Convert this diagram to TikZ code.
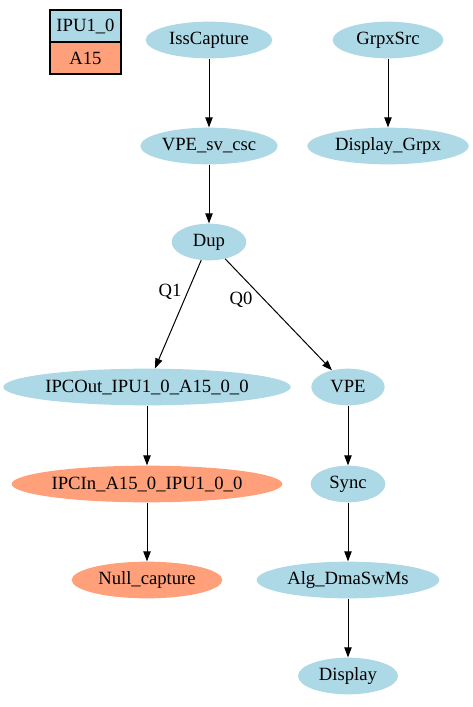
\documentclass[tikz,border=0pt]{standalone}
\usepackage{fontspec}
\setmainfont{Liberation Serif}
\usepackage{tikz}
\usetikzlibrary{arrows.meta,shapes.geometric}

\tikzset{
	blk/.style = {ellipse, fill=ipublue, inner sep=0pt, minimum height=27.5pt},
	arm/.style = {ellipse, fill=armsalmon, inner sep=0pt, minimum height=27.5pt},
	key/.style = {draw, line width=0.8pt, inner sep=0pt, minimum width=53.25pt, minimum height=24pt},
	flow/.style = {-{Triangle[length=7.5pt,width=5.5pt]}, line width=0.75pt}
}
\definecolor{ipublue}{HTML}{ADD8E6}
\definecolor{armsalmon}{HTML}{FFA07A}

\begin{document}
\begin{tikzpicture}[x=0.75pt, y=-0.75pt, font=\fontsize{14}{16}\selectfont]
		\useasboundingbox (0,0) rectangle (473,707);
		% legend
		\node[key, fill=ipublue] (K1) at (85.5,26) {IPU1\_0};
		\node[key, fill=armsalmon] (K2) at (85.5,58) {A15};
		% chain nodes
		\node[blk, minimum width=95pt] (Iss) at (209,40) {IssCapture};
		\node[blk, minimum width=83pt] (Grpx) at (388,40) {GrpxSrc};
		\node[blk, minimum width=103pt] (Csc) at (209,146) {VPE\_sv\_csc};
		\node[blk, minimum width=121pt] (DGrpx) at (388,146) {Display\_Grpx};
		\node[blk, minimum width=56pt] (Dup) at (209,242) {Dup};
		\node[blk, minimum width=215pt] (Out) at (147,387) {IPCOut\_IPU1\_0\_A15\_0\_0};
		\node[blk, minimum width=55pt] (Vpe) at (348,387) {VPE};
		\node[arm, minimum width=203pt] (In) at (147,484) {IPCIn\_A15\_0\_IPU1\_0\_0};
		\node[blk, minimum width=56pt] (Sync) at (348,484) {Sync};
		\node[arm, minimum width=113pt] (Null) at (147,580) {Null\_capture};
		\node[blk, minimum width=137pt] (Alg) at (348,580) {Alg\_DmaSwMs};
		\node[blk, minimum width=75pt] (Disp) at (348,676) {Display};
		% queue labels
		\node (Q1) at (170,292) {Q1};
		\node (Q0) at (241,300) {Q0};
		\path[flow] (Iss) edge (Csc)
			(Grpx) edge (DGrpx)
			(Csc) edge (Dup)
			(Dup) edge (Out)
			(Dup) edge (Vpe)
			(Out) edge (In)
			(In) edge (Null)
			(Vpe) edge (Sync)
			(Sync) edge (Alg)
			(Alg) edge (Disp);
	\end{tikzpicture}
\end{document}
